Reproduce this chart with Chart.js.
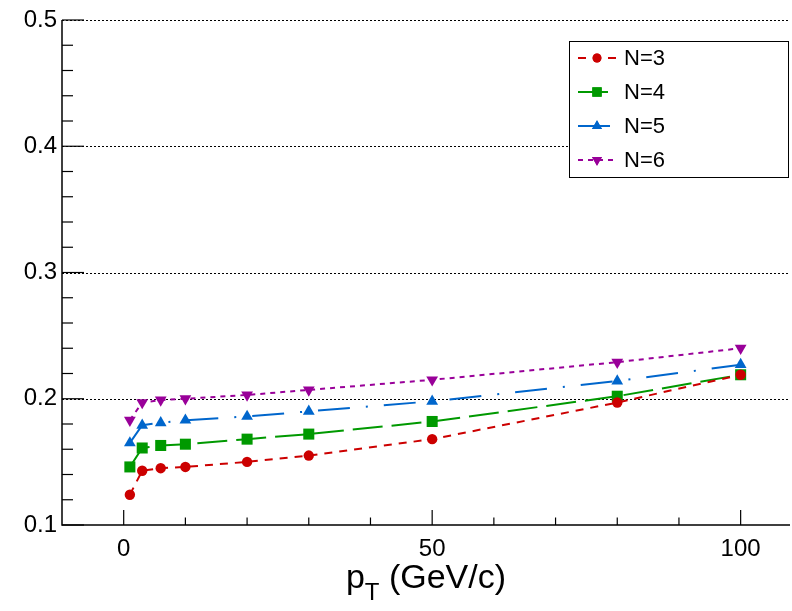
<!DOCTYPE html>
<html>
<head>
<meta charset="utf-8">
<script src="https://cdn.jsdelivr.net/npm/chart.js@4/dist/chart.umd.min.js"></script>
<style>
  body { margin: 0; background: #fff; }
  #wrap { width: 792px; height: 611px; }
</style>
</head>
<body>
<div id="wrap"><canvas id="myChart"></canvas></div>
<script>
// values
const ptValues = [1, 3, 6, 10, 20, 30, 50, 80, 100];
const n3 = [0.124, 0.143, 0.145, 0.146, 0.150, 0.155, 0.168, 0.197, 0.219];
const n4 = [0.146, 0.161, 0.163, 0.164, 0.168, 0.172, 0.182, 0.202, 0.219];
const n5 = [0.165, 0.179, 0.181, 0.183, 0.186, 0.190, 0.198, 0.214, 0.227];
const n6 = [0.183, 0.197, 0.199, 0.200, 0.203, 0.207, 0.215, 0.229, 0.240];
const seriesNames = ['N=3', 'N=4', 'N=5', 'N=6'];
const xTicks = [0, 50, 100];
const yTicks = [0.1, 0.2, 0.3, 0.4, 0.5];

const FONT = '"Liberation Sans", Arial, Helvetica, sans-serif';

function pts(arr) {
    return ptValues.map((x, i) => ({ x: x, y: arr[i] }));
}

function makeSet(label, arr, color, dash, style, radius, rot) {
    return {
        label: label,
        data: pts(arr),
        borderColor: color,
        backgroundColor: color,
        borderWidth: 2,
        borderDash: dash,
        pointStyle: style,
        pointRadius: radius,
        pointRotation: rot,
        pointBorderWidth: 0,
        pointBackgroundColor: color,
        tension: 0
    };
}

// axes, inward ticks, dotted grid (ROOT look)
const frame = {
    id: 'frame',
    beforeDatasetsDraw(chart) {
        const c = chart.ctx;
        const a = chart.chartArea;
        const xs = chart.scales.x, ys = chart.scales.y;
        c.save();
        c.strokeStyle = '#000';
        c.lineWidth = 1;
        c.setLineDash([2, 2]);
        yTicks.forEach(v => {
            if (v === yTicks[0]) return;
            const y = Math.round(ys.getPixelForValue(v)) + 0.5;
            c.beginPath();
            c.moveTo(a.left, y);
            c.lineTo(a.right, y);
            c.stroke();
        });
        c.setLineDash([]);
        c.lineWidth = 1.5;
        c.beginPath();
        c.moveTo(a.left, a.top);
        c.lineTo(a.left, a.bottom);
        c.lineTo(a.right, a.bottom);
        c.stroke();
        c.lineWidth = 1.2;
        // y ticks
        for (let k = 0; k <= 20; k++) {
            const v = 0.1 + k * 0.02;
            const y = ys.getPixelForValue(v);
            const len = (k % 5 === 0) ? 22 : 11;
            c.beginPath();
            c.moveTo(a.left, y);
            c.lineTo(a.left + len, y);
            c.stroke();
        }
        // x ticks
        for (let v = 0; v <= 100; v += 10) {
            const x = xs.getPixelForValue(v);
            const len = (v % 50 === 0) ? 15 : 7.5;
            c.beginPath();
            c.moveTo(x, a.bottom);
            c.lineTo(x, a.bottom - len);
            c.stroke();
        }
        c.restore();
    },
    afterDraw(chart) {
        const c = chart.ctx;
        const a = chart.chartArea;
        c.save();
        // axis title p_T (GeV/c)
        c.fillStyle = '#000';
        c.textBaseline = 'alphabetic';
        c.font = '34px ' + FONT;
        const wp = c.measureText('p').width;
        const wr = c.measureText(' (GeV/c)').width;
        c.font = '24px ' + FONT;
        const wt = c.measureText('T').width;
        const total = wp + wt + wr;
        let x = (a.left + a.right) / 2 - total / 2;
        const base = 588;
        c.font = '34px ' + FONT;
        c.fillText('p', x, base);
        x += wp;
        c.font = '24px ' + FONT;
        c.fillText('T', x, base + 12);
        x += wt;
        c.font = '34px ' + FONT;
        c.fillText(' (GeV/c)', x, base);

        // legend box
        c.fillStyle = '#fff';
        c.fillRect(569, 41, 219, 136);
        c.strokeStyle = '#000';
        c.lineWidth = 1;
        c.strokeRect(569.5, 41.5, 219, 136);
        chart.data.datasets.forEach((ds, i) => {
            const y = 58 + i * 34;
            c.strokeStyle = ds.borderColor;
            c.lineWidth = 2;
            c.setLineDash(ds.borderDash);
            c.beginPath();
            c.moveTo(578, y);
            c.lineTo(617, y);
            c.stroke();
            c.setLineDash([]);
            c.fillStyle = ds.borderColor;
            Chart.helpers.drawPoint(c, {
                pointStyle: ds.pointStyle,
                radius: ds.pointRadius * 0.85,
                rotation: ds.pointRotation,
                borderWidth: 0
            }, 597, y);
            c.fill();
            c.fillStyle = '#000';
            c.font = '22px ' + FONT;
            c.textBaseline = 'middle';
            c.fillText(ds.label, 624, y + 1);
        });
        c.restore();
    }
};

new Chart(document.getElementById('myChart'), {
    type: 'line',
    data: {
        datasets: [
            makeSet(seriesNames[0], n3, '#cc0000', [8, 7], 'circle', 5.2, 0),
            makeSet(seriesNames[1], n4, '#009900', [30, 9], 'rect', 7.8, 0),
            makeSet(seriesNames[2], n5, '#0066cc', [32, 16, 2, 16], 'triangle', 6.8, 0),
            makeSet(seriesNames[3], n6, '#990099', [5, 5], 'triangle', 6.8, 180)
        ]
    },
    options: {
        responsive: true,
        maintainAspectRatio: false,
        animation: false,
        layout: { autoPadding: false, padding: { top: 20, right: 2, left: 0, bottom: 0 } },
        plugins: {
            legend: { display: false },
            tooltip: { enabled: false }
        },
        scales: {
            x: {
                type: 'linear',
                min: -10,
                max: 108,
                grid: { display: false, drawTicks: false },
                border: { display: false },
                afterBuildTicks: s => { s.ticks = xTicks.map(v => ({ value: v })); },
                afterFit: s => { s.height = 86; s.paddingLeft = 0; s.paddingRight = 0; },
                ticks: {
                    padding: 10,
                    color: '#000',
                    font: { family: FONT, size: 24 },
                    callback: v => String(v)
                }
            },
            y: {
                type: 'linear',
                min: 0.1,
                max: 0.5,
                grid: { display: false, drawTicks: false },
                border: { display: false },
                afterBuildTicks: s => { s.ticks = yTicks.map(v => ({ value: v })); },
                afterFit: s => { s.width = 62; s.paddingTop = 0; s.paddingBottom = 0; },
                ticks: {
                    padding: 5,
                    color: '#000',
                    font: { family: FONT, size: 24 },
                    callback: v => v.toFixed(1)
                }
            }
        }
    },
    plugins: [frame]
});
</script>
</body>
</html>
